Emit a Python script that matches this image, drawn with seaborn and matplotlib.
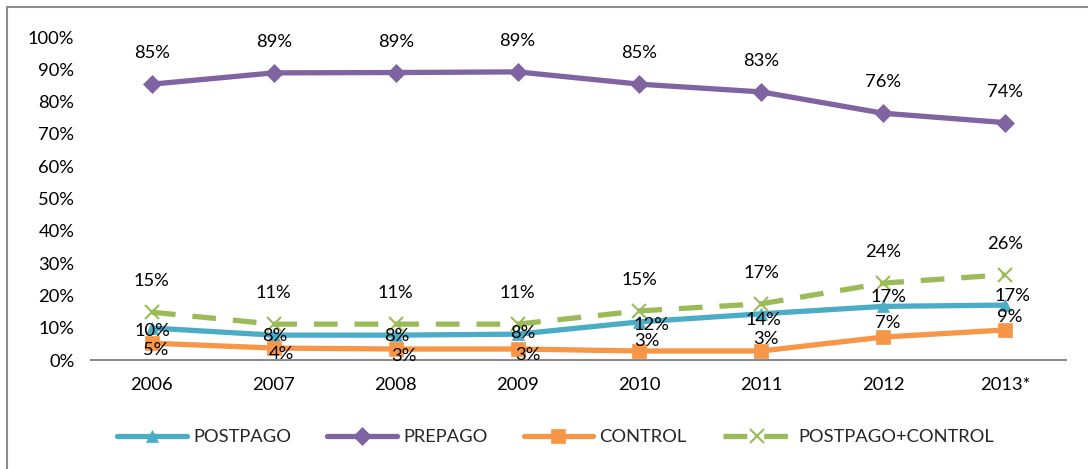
import numpy as np
import matplotlib
matplotlib.use("Agg")
import matplotlib.pyplot as plt
from matplotlib.lines import Line2D
from matplotlib.ticker import FuncFormatter
import seaborn as sns

# data (percent)
years = ["2006", "2007", "2008", "2009", "2010", "2011", "2012", "2013*"]
postpago = [9.9, 7.7, 7.7, 8.0, 11.8, 14.3, 16.6, 17.0]
prepago = [85.4, 88.9, 89.0, 89.2, 85.4, 83.0, 76.4, 73.5]
control = [5.2, 3.7, 3.4, 3.4, 2.8, 2.8, 7.1, 9.3]
postpago_control = [14.8, 11.1, 11.1, 11.1, 15.2, 17.4, 23.8, 26.4]

sns.set_theme(style="white")
plt.rcParams["font.family"] = ["Lato", "DejaVu Sans"]
FS = 13.2

fig = plt.figure(figsize=(10.88, 4.69), dpi=100)
ax = fig.add_axes([0.0836, 0.2324, 0.8962, 0.6887])

x = np.arange(len(years))

# series styling: (values, label, color, marker, markersize, linestyle, label offsets in px)
series = [
    (postpago, "POSTPAGO", "#4BACC6", "^", 9, "-",
     [(1, -3), (1, -1), (1, -1), (5, 1), (12, -3), (2, -6), (5, 9), (7, 9)]),
    (prepago, "PREPAGO", "#8064A2", "D", 9, "-", [(0, 31)] * 8),
    (control, "CONTROL", "#F79646", "s", 10, "-",
     [(4, -7), (8, -6), (8, -7), (10, -6), (7, 10), (5, 12), (4, 14), (5, 13)]),
    (postpago_control, "POSTPAGO+CONTROL", "#9BBB59", "x", 10, (0, (4.5, 3.2)),
     [(0, 31)] * 8),
]

for vals, name, col, mk, ms, ls, offs in series:
    sns.lineplot(x=x, y=vals, ax=ax, color=col, linewidth=3.8, linestyle=ls,
                 marker=mk, markersize=ms, markeredgecolor=col,
                 markeredgewidth=1.5 if mk == "x" else 0.5, label=name)
    for xi, v, (dx, dy) in zip(x, vals, offs):
        ax.annotate(f"{v:.0f}%", (xi, v), xytext=(dx, dy),
                    textcoords="offset pixels", ha="center", va="center",
                    fontsize=FS, color="black", zorder=10)

ax.set_xlim(-0.5, len(years) - 0.5)
ax.set_ylim(0, 100)
ax.set_yticks(np.arange(0, 101, 10))
ax.yaxis.set_major_formatter(FuncFormatter(lambda v, p: f"{v:.0f}%"))
ax.set_xticks(x)
ax.set_xticklabels(years)
ax.tick_params(axis="y", length=0, pad=12, labelsize=FS, labelcolor="black")
ax.tick_params(axis="x", length=0, pad=12, labelsize=FS, labelcolor="black")
ax.set_xlabel("")
ax.set_ylabel("")
for s in ["left", "right", "top"]:
    ax.spines[s].set_visible(False)
ax.spines["bottom"].set_color("#8C8C8C")
ax.spines["bottom"].set_linewidth(1.5)
ax.grid(False)

ax.legend(loc="center", bbox_to_anchor=(0.511, 0.068), bbox_transform=fig.transFigure,
          ncol=4, frameon=False, fontsize=FS, handlelength=3.8,
          handletextpad=0.35, columnspacing=1.95, numpoints=1)

# outer frame of the chart (left and top edges visible in the crop)
fig.add_artist(Line2D([0.0066, 0.0066], [0.0, 0.985], transform=fig.transFigure,
                      color="#8C8C8C", linewidth=1.5))
fig.add_artist(Line2D([0.0066, 1.0], [0.985, 0.985], transform=fig.transFigure,
                      color="#8C8C8C", linewidth=1.5))

fig.savefig("out.png", dpi=100)
